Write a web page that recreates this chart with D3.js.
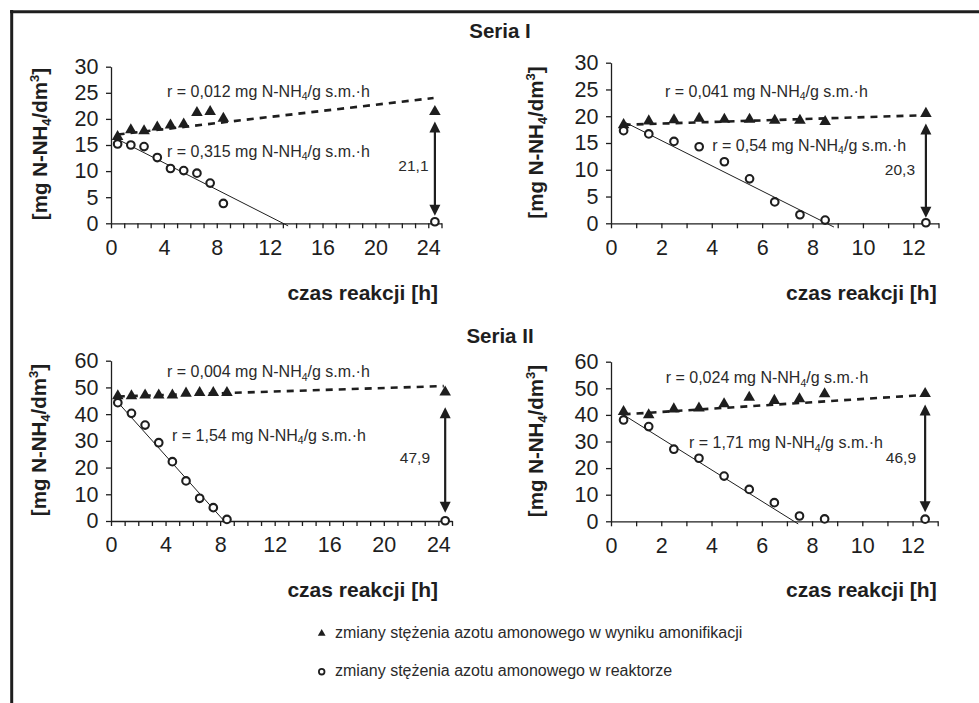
<!DOCTYPE html>
<html>
<head>
<meta charset="utf-8">
<script src="https://cdn.jsdelivr.net/npm/d3@7"></script>
<style>
body { margin: 0; background: #fff; }
svg { display: block; font-family: "Liberation Sans", Arial, sans-serif; }
</style>
</head>
<body>
<script>
// measurement times [h]
var hoursLong = [0.5, 1.5, 2.5, 3.5, 4.5, 5.5, 6.5, 7.5, 8.5, 24.5];
var hoursShort = [0.5, 1.5, 2.5, 3.5, 4.5, 5.5, 6.5, 7.5, 8.5, 12.5];

// Seria I - left / right
var amon1 = [16.6, 17.9, 17.7, 18.4, 18.8, 19.0, 21.2, 21.4, 20.1, 21.4];
var react1 = [15.2, 15.0, 14.7, 12.6, 10.5, 10.1, 9.6, 7.7, 3.8, 0.3];
var amon2 = [18.4, 19.1, 19.3, 19.6, 19.4, 19.4, 19.2, 19.2, 19.0, 20.5];
var react2 = [17.3, 16.7, 15.3, 14.3, 11.5, 8.3, 4.0, 1.6, 0.6, 0.1];

// Seria II - left / right
var amon3 = [46.8, 46.8, 47.1, 47.1, 47.1, 47.8, 48.0, 48.0, 48.0, 48.2];
var react3 = [44.3, 40.3, 35.9, 29.3, 22.2, 15.0, 8.5, 5.0, 0.6, 0.1];
var amon4 = [41.2, 40.0, 42.2, 42.5, 44.1, 46.6, 45.4, 46.0, 47.9, 48.0];
var react4 = [38.1, 35.6, 27.1, 23.7, 17.0, 12.0, 7.0, 2.0, 0.9, 0.8];

// trend lines (start / end point)
var fitAmon1 = [[0.5, 17.0], [24.4, 24.0]];
var fitReact1 = [[0.5, 16.1], [13.4, -0.5]];
var fitAmon2 = [[0.5, 18.4], [12.5, 20.2]];
var fitReact2 = [[0.5, 19.0], [8.85, -0.7]];
var fitAmon3 = [[0.5, 46.6], [24.4, 50.5]];
var fitReact3 = [[0.4, 45.0], [8.35, -0.3]];
var fitAmon4 = [[0.5, 40.2], [12.5, 47.5]];
var fitReact4 = [[0.5, 40.0], [7.45, -1.0]];

// rates and differences
var rateAmon = ["0,012", "0,041", "0,004", "0,024"];
var rateReact = ["0,315", "0,54", "1,54", "1,71"];
var diffLabels = ["21,1", "20,3", "47,9", "46,9"];
var seriesTitles = ["Seria I", "Seria II"];
var legendLabels = ["zmiany stężenia azotu amonowego w wyniku amonifikacji",
    "zmiany stężenia azotu amonowego w reaktorze"];

var ink = "#1e1e1e";

var svg = d3.select("body").append("svg")
    .attr("width", 979)
    .attr("height", 703);

// frame (top + left edge)
svg.append("line").attr("x1", 10).attr("x2", 979).attr("y1", 11.7).attr("y2", 11.7)
    .attr("stroke", ink).attr("stroke-width", 3);
svg.append("line").attr("x1", 11.7).attr("x2", 11.7).attr("y1", 10).attr("y2", 703)
    .attr("stroke", ink).attr("stroke-width", 3);

// series titles
svg.selectAll("text.title")
    .data(seriesTitles)
    .enter()
    .append("text")
    .attr("class", "title")
    .attr("x", 500)
    .attr("y", function (d, i) { return i === 0 ? 38 : 343; })
    .attr("text-anchor", "middle")
    .attr("font-size", 20.5)
    .attr("font-weight", "bold")
    .attr("fill", ink)
    .text(function (d) { return d; });

var panels = [
    {x0: 111, x1: 441.5, y0: 223.3, y1: 66.7, xMax: 25, xLab: 4, yMax: 30, yStep: 5,
        hours: hoursLong, amon: amon1, react: react1, fitA: fitAmon1, fitR: fitReact1,
        rA: [167, 96.5], rR: [167, 156.5], diff: [428.5, 166], yLab: [46.5, 144], xTit: [438, 300], gap: [10, 6]},
    {x0: 611, x1: 938.5, y0: 223.3, y1: 62.7, xMax: 13, xLab: 2, yMax: 30, yStep: 5,
        hours: hoursShort, amon: amon2, react: react2, fitA: fitAmon2, fitR: fitReact2,
        rA: [665, 96.5], rR: [712.3, 150.5], diff: [915, 170], yLab: [543, 142.5], xTit: [936.7, 300], gap: [10, 5]},
    {x0: 111, x1: 452, y0: 521, y1: 360.7, xMax: 25, xLab: 4, yMax: 60, yStep: 10,
        hours: hoursLong, amon: amon3, react: react3, fitA: fitAmon3, fitR: fitReact3,
        rA: [167, 377.3], rR: [172, 440.7], diff: [430, 458], yLab: [45.5, 440], xTit: [438, 596.5], gap: [15, 8]},
    {x0: 611, x1: 937.7, y0: 521.3, y1: 361.7, xMax: 13, xLab: 2, yMax: 60, yStep: 10,
        hours: hoursShort, amon: amon4, react: react4, fitA: fitAmon4, fitR: fitReact4,
        rA: [665.7, 383.3], rR: [689, 448.3], diff: [916, 458], yLab: [543, 441], xTit: [936.7, 596.5], gap: [11, 7]}
];

// text with N-NH4 subscript
function rateText(g, pos, rate) {
    var t = g.append("text")
        .attr("x", pos[0]).attr("y", pos[1])
        .attr("font-size", 16).attr("fill", "#2a2a2a");
    t.append("tspan").text("r = " + rate + " mg N-NH");
    t.append("tspan").attr("font-size", 10.5).attr("dy", 3.5).text("4");
    t.append("tspan").attr("dy", -3.5).text("/g s.m.·h");
}

panels.forEach(function (p, i) {
    var g = svg.append("g");
    var x = d3.scaleLinear().domain([0, p.xMax]).range([p.x0, p.x1]);
    var y = d3.scaleLinear().domain([0, p.yMax]).range([p.y0, p.y1]);

    var xAxis = d3.axisBottom(x)
        .tickValues(d3.range(0, p.xMax + 1))
        .tickSize(5)
        .tickSizeOuter(0)
        .tickPadding(11)
        .tickFormat(function (d) { return (d % p.xLab === 0 && d < p.xMax) ? d : ""; });
    var yAxis = d3.axisLeft(y)
        .tickValues(d3.range(0, p.yMax + 1, p.yStep))
        .tickSize(5)
        .tickSizeOuter(0)
        .tickPadding(7.5);

    var gx = g.append("g").attr("transform", "translate(0," + p.y0 + ")").call(xAxis);
    var gy = g.append("g").attr("transform", "translate(" + p.x0 + ",0)").call(yAxis);
    [gx, gy].forEach(function (a) {
        a.selectAll("path, line").attr("stroke", ink).attr("stroke-width", 1.3);
        a.selectAll("text").attr("font-size", 21.5).attr("fill", ink)
            .attr("font-family", "Liberation Sans, Arial, sans-serif");
    });

    var line = d3.line()
        .x(function (d) { return x(d[0]); })
        .y(function (d) { return y(d[1]); });

    g.append("path").datum(p.fitR).attr("d", line)
        .attr("fill", "none").attr("stroke", ink).attr("stroke-width", 1);
    g.append("path").datum(p.fitA).attr("d", line)
        .attr("fill", "none").attr("stroke", ink).attr("stroke-width", 2.6)
        .attr("stroke-dasharray", "7,6");

    // double arrow at the last measurement
    var last = p.hours.length - 1;
    var ax = x(p.hours[last]);
    var top = y(p.amon[last]) + p.gap[0];
    var bot = y(p.react[last]) - p.gap[1];
    g.append("line").attr("x1", ax).attr("x2", ax).attr("y1", top + 8).attr("y2", bot - 8)
        .attr("stroke", ink).attr("stroke-width", 2.2);
    g.append("path")
        .attr("d", "M" + ax + "," + top + "L" + (ax - 5.5) + "," + (top + 11) + "L" + (ax + 5.5) + "," + (top + 11) + "Z")
        .attr("fill", ink);
    g.append("path")
        .attr("d", "M" + ax + "," + bot + "L" + (ax - 5.5) + "," + (bot - 11) + "L" + (ax + 5.5) + "," + (bot - 11) + "Z")
        .attr("fill", ink);

    // markers
    g.selectAll("path.tri")
        .data(p.amon)
        .enter()
        .append("path")
        .attr("class", "tri")
        .attr("d", d3.symbol().type(d3.symbolTriangle).size(58))
        .attr("transform", function (d, j) { return "translate(" + x(p.hours[j]) + "," + y(d) + ")"; })
        .attr("fill", ink);
    g.selectAll("circle")
        .data(p.react)
        .enter()
        .append("circle")
        .attr("cx", function (d, j) { return x(p.hours[j]); })
        .attr("cy", function (d) { return y(d); })
        .attr("r", 3.8)
        .attr("fill", "#fff")
        .attr("stroke", ink)
        .attr("stroke-width", 2.1);

    rateText(g, p.rA, rateAmon[i]);
    rateText(g, p.rR, rateReact[i]);

    g.append("text")
        .attr("x", p.diff[0]).attr("y", p.diff[1])
        .attr("dy", "0.35em")
        .attr("text-anchor", "end")
        .attr("font-size", 15.5)
        .attr("fill", "#2a2a2a")
        .text(diffLabels[i]);

    // y axis title
    var yt = g.append("text")
        .attr("transform", "translate(" + p.yLab[0] + "," + p.yLab[1] + ") rotate(-90)")
        .attr("text-anchor", "middle")
        .attr("font-size", 20.5)
        .attr("font-weight", "bold")
        .attr("fill", ink);
    yt.append("tspan").text("[mg N-NH");
    yt.append("tspan").attr("font-size", 13).attr("dy", 4).text("4");
    yt.append("tspan").attr("dy", -4).text("/dm");
    yt.append("tspan").attr("font-size", 13).attr("dy", -8).text("3");
    yt.append("tspan").attr("dy", 8).text("]");

    g.append("text")
        .attr("x", p.xTit[0]).attr("y", p.xTit[1])
        .attr("text-anchor", "end")
        .attr("font-size", 21)
        .attr("font-weight", "bold")
        .attr("fill", ink)
        .text("czas reakcji [h]");
});

// legend
var legend = svg.append("g");
legend.append("path")
    .attr("d", d3.symbol().type(d3.symbolTriangle).size(26))
    .attr("transform", "translate(321.7,633.5)")
    .attr("fill", ink);
legend.append("circle")
    .attr("cx", 321.7).attr("cy", 671.7).attr("r", 2.8)
    .attr("fill", "#fff").attr("stroke", ink).attr("stroke-width", 1.8);
legend.selectAll("text")
    .data(legendLabels)
    .enter()
    .append("text")
    .attr("x", 335)
    .attr("y", function (d, i) { return i === 0 ? 638 : 676; })
    .attr("font-size", 16)
    .attr("fill", "#2a2a2a")
    .text(function (d) { return d; });
</script>
</body>
</html>
